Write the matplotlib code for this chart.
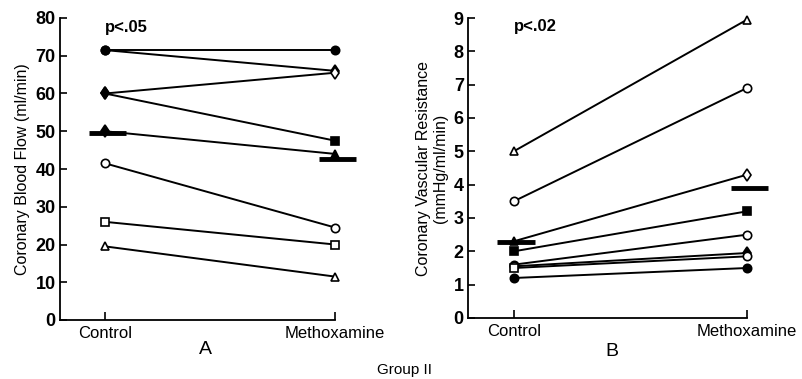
import matplotlib
matplotlib.use("Agg")
import matplotlib.pyplot as plt

plt.rcParams['font.family'] = ['Liberation Sans', 'DejaVu Sans']

conditions = ["Control", "Methoxamine"]

# Panel A: Coronary blood flow (ml/min)
flow_control = [71.5, 71.5, 60, 60, 50, 41.5, 26, 19.5]
flow_methox = [71.5, 66, 65.5, 47.5, 44, 24.5, 20, 11.5]
flow_mk_control = ['o', 'o', 'd', 'd', 'd', 'o', 's', '^']
flow_mk_methox = ['o', 'd', 'd', 's', '^', 'o', 's', '^']
flow_fill_control = [True, True, True, True, True, False, False, False]
flow_fill_methox = [True, True, False, True, True, False, False, False]
flow_means = [49.5, 42.7]

# Panel B: Coronary vascular resistance (mmHg/ml/min)
res_control = [5.0, 3.5, 2.3, 2.0, 1.6, 1.55, 1.5, 1.2]
res_methox = [8.95, 6.9, 4.3, 3.2, 2.5, 1.95, 1.85, 1.5]
res_mk_control = ['^', 'o', '^', 's', 'o', 'o', 's', 'o']
res_mk_methox = ['^', 'o', 'd', 's', 'o', 'd', 'o', 'o']
res_fill_control = [False, False, True, True, False, False, False, True]
res_fill_methox = [False, False, False, True, False, True, False, True]
res_means = [2.28, 3.9]

fig = plt.figure(figsize=(8.03, 3.79), dpi=100)
W, H = 803, 379

def make_ax(x_left, x_right, y_bottom, y_top):
    return fig.add_axes([x_left / W, 1 - y_bottom / H, (x_right - x_left) / W, (y_bottom - y_top) / H])

axA = make_ax(60, 335, 320, 18)
axB = make_ax(468, 747, 318, 18)

def draw(ax, c, m, mkc, mkm, fc, fm, means, ylim, yticks, pval, ylabel):
    xs = [0, 1]
    for i in range(len(c)):
        ax.plot(xs, [c[i], m[i]], color='black', lw=1.4, zorder=2, clip_on=False)
        ax.plot([0], [c[i]], marker=mkc[i], ms=6, mec='black', mew=1.2,
                mfc='black' if fc[i] else 'white', ls='none', zorder=3, clip_on=False)
        ax.plot([1], [m[i]], marker=mkm[i], ms=6, mec='black', mew=1.2,
                mfc='black' if fm[i] else 'white', ls='none', zorder=3, clip_on=False)
    ax.plot([-0.07, 0.09], [means[0], means[0]], color='black', lw=3.5, solid_capstyle='butt', zorder=4, clip_on=False)
    ax.plot([0.93, 1.09], [means[1], means[1]], color='black', lw=3.5, solid_capstyle='butt', zorder=4, clip_on=False)
    ax.set_xlim(-0.196, 1.0)
    ax.set_ylim(*ylim)
    ax.set_yticks(yticks)
    ax.set_xticks(xs)
    ax.set_xticklabels(conditions, fontsize=12)
    ax.tick_params(axis='y', direction='in', length=5, width=1.2, labelsize=13, pad=3)
    ax.tick_params(axis='x', direction='in', length=6, width=1.2, pad=4)
    for lab in ax.get_yticklabels():
        lab.set_fontweight('bold')
    for s in ['top', 'right']:
        ax.spines[s].set_visible(False)
    for s in ['left', 'bottom']:
        ax.spines[s].set_linewidth(1.3)
    ax.set_ylabel(ylabel, fontsize=11.5, labelpad=4)
    ax.text(0.0, 0.995, pval, transform=ax.get_xaxis_transform(), fontsize=12, fontweight='bold',
            va='top', ha='left')
    ax.patch.set_alpha(0)

draw(axA, flow_control, flow_methox, flow_mk_control, flow_mk_methox,
     flow_fill_control, flow_fill_methox, flow_means, (0, 80), range(0, 81, 10),
     "p<.05", "Coronary Blood Flow (ml/min)")
draw(axB, res_control, res_methox, res_mk_control, res_mk_methox,
     res_fill_control, res_fill_methox, res_means, (0, 9), range(0, 10),
     "p<.02", "Coronary Vascular Resistance\n(mmHg/ml/min)")

fig.text(205 / W, 1 - 350 / H, "A", fontsize=14, ha='center', va='center')
fig.text(612 / W, 1 - 352 / H, "B", fontsize=14, ha='center', va='center')
fig.text(405 / W, 1 - 370 / H, "Group II", fontsize=11, ha='center', va='center')

fig.savefig("out.png", dpi=100, facecolor='white')
